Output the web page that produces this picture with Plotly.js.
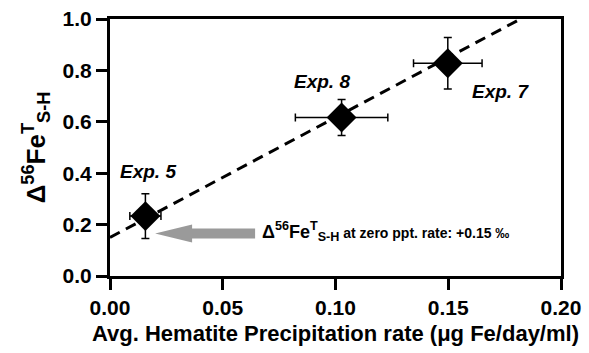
<!DOCTYPE html>
<html>
<head>
<meta charset="utf-8">
<script src="https://cdn.plot.ly/plotly-3.0.1.min.js"></script>
<style>
  html, body { margin: 0; padding: 0; background: #fff; }
  #chart { width: 589px; height: 353px; }
</style>
</head>
<body>
<div id="chart"></div>
<script>
// Experiments: hematite precipitation rate vs. Δ56Fe(T) S-H
const experiments = ["Exp. 5", "Exp. 8", "Exp. 7"];
const rate = [0.0157, 0.1027, 0.1498];
const rateErr = [0.0069, 0.0205, 0.0152];
const delta = [0.233, 0.617, 0.828];
const deltaErr = [0.087, 0.070, 0.100];

// Linear fit through the experiments (intercept +0.15 at zero rate)
const fitRate = [0, 0.182];
const fitDelta = [0.15, 1.0];

// Label positions for the experiment names
const labelX = [0.017, 0.094, 0.173];
const labelY = [0.405, 0.755, 0.716];

const xTicks = [0, 0.05, 0.10, 0.15, 0.20];
const xTickText = ["0.00", "0.05", "0.10", "0.15", "0.20"];
const yTicks = [0, 0.2, 0.4, 0.6, 0.8, 1.0];
const yTickText = ["0.0", "0.2", "0.4", "0.6", "0.8", "1.0"];

const font = "Liberation Sans, Arial, sans-serif";

const traces = [
  {
    x: fitRate, y: fitDelta, mode: "lines", type: "scatter",
    line: { color: "#000", width: 3, dash: "11px,7px" },
    hoverinfo: "skip", showlegend: false
  },
  {
    x: rate, y: delta, mode: "markers", type: "scatter",
    marker: { symbol: "diamond", size: 23, color: "#000" },
    error_x: { type: "data", array: rateErr, visible: true, color: "#000", thickness: 1.5, width: 4 },
    error_y: { type: "data", array: deltaErr, visible: true, color: "#000", thickness: 1.5, width: 4 },
    text: experiments, showlegend: false
  }
];

const annotations = experiments.map((name, i) => ({
  x: labelX[i], y: labelY[i], xref: "x", yref: "y",
  text: "<b><i>" + name + "</i></b>", showarrow: false,
  font: { family: font, size: 19, color: "#000" }
}));

annotations.push({
  x: 0.0665, y: 0.172, xref: "x", yref: "y", xanchor: "left", yanchor: "middle",
  showarrow: false,
  text: "<b>Δ<sup>56</sup>Fe<sup>T</sup><sub>S-H</sub><span style='font-size:14px'> at zero ppt. rate: +0.15 ‰</span></b>",
  font: { family: font, size: 18, color: "#000" }
});

const layout = {
  width: 589, height: 353,
  margin: { l: 110, r: 28, t: 19, b: 77 },
  paper_bgcolor: "#fff", plot_bgcolor: "#fff",
  font: { family: font, color: "#000" },
  xaxis: {
    range: [0, 0.2], tickvals: xTicks, ticktext: xTickText,
    showgrid: false, zeroline: false,
    showline: true, linecolor: "#000", linewidth: 3, mirror: true,
    ticks: "outside", ticklen: 11, tickwidth: 3, tickcolor: "#000",
    tickfont: { family: font, size: 21, color: "#000", weight: "bold" },
    title: { text: "<b>Avg. Hematite Precipitation rate (μg Fe/day/ml)</b>",
             font: { family: font, size: 22, color: "#000" }, standoff: 8 }
  },
  yaxis: {
    range: [0, 1.0], tickvals: yTicks, ticktext: yTickText,
    showgrid: false, zeroline: false,
    showline: true, linecolor: "#000", linewidth: 3, mirror: true,
    ticks: "outside", ticklen: 11, tickwidth: 3, tickcolor: "#000",
    tickfont: { family: font, size: 21, color: "#000", weight: "bold" },
    title: { text: "<b>Δ<sup>56</sup>Fe<sup>T</sup><sub>S-H</sub></b>",
             font: { family: font, size: 26, color: "#000" }, standoff: 10 }
  },
  shapes: [{
    // grey arrow pointing at the zero-rate intercept
    type: "path", xref: "x", yref: "y",
    xsizemode: "pixel", ysizemode: "pixel",
    xanchor: 0.020, yanchor: 0.165,
    path: "M0,0 L37,9 L37,5 L100,5 L100,-5 L37,-5 L37,-9 Z",
    fillcolor: "#9a9a9a", line: { width: 0 }
  }],
  annotations: annotations
};

Plotly.newPlot("chart", traces, layout, { displayModeBar: false, staticPlot: true });
</script>
</body>
</html>
